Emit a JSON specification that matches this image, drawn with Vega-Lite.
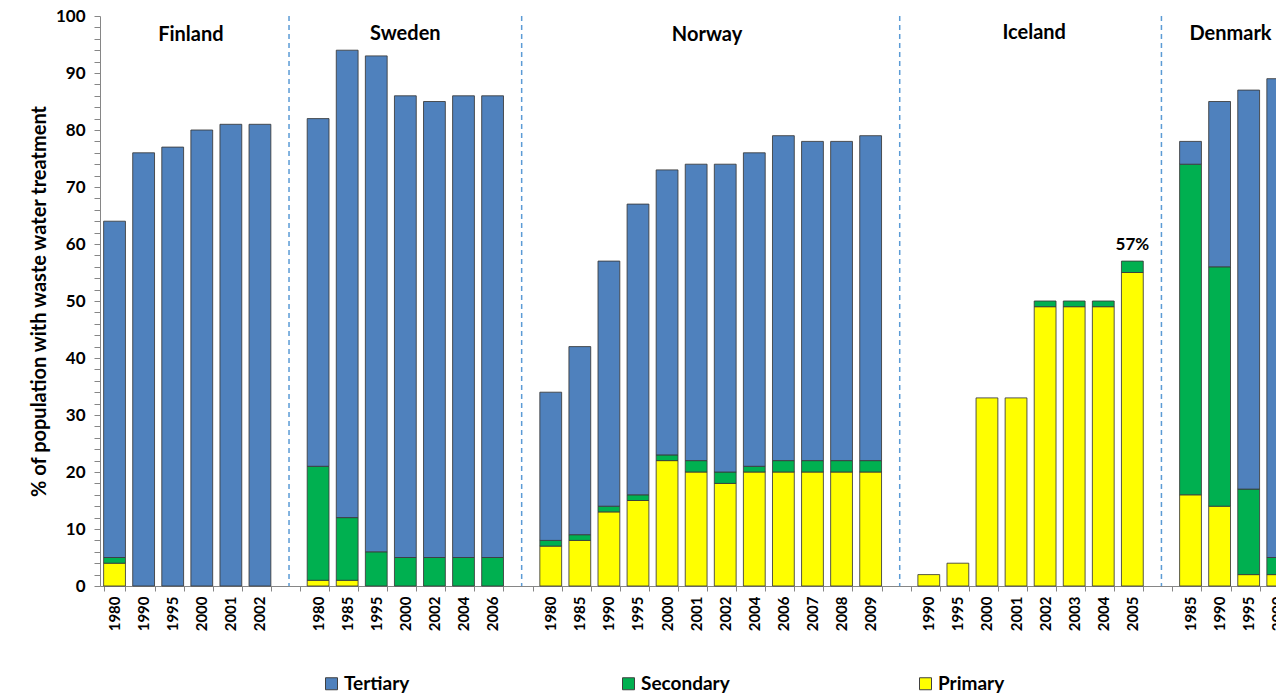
{
  "$schema": "https://vega.github.io/schema/vega-lite/v6.json",
  "autosize": {"type": "none"},
  "width": 1176,
  "height": 570,
  "padding": {"left": 100, "top": 16, "right": 0, "bottom": 112},
  "background": "white",
  "config": {
    "view": {"stroke": null},
    "font": "Lato",
    "axis": {"domainColor": "#868686", "tickColor": "#868686", "labelColor": "#000000", "titleColor": "#000000", "grid": false, "labelFontWeight": "bold", "titleFontWeight": "bold", "labelOverlap": false},
    "axisY": {"labelOverlap": false, "labelPadding": 9, "tickSize": 6, "titleFontSize": 20, "titlePadding": 6, "labelFontSize": 17},
    "legend": {"labelColor": "#000000"}
  },
  "encoding": {
    "x": {
      "field": "key", "type": "nominal", "title": null, "sort": null,
      "scale": {
        "domain": ["Finland|1980","Finland|1990","Finland|1995","Finland|2000","Finland|2001","Finland|2002","g1",
                   "Sweden|1980","Sweden|1985","Sweden|1995","Sweden|2000","Sweden|2002","Sweden|2004","Sweden|2006","g2",
                   "Norway|1980","Norway|1985","Norway|1990","Norway|1995","Norway|2000","Norway|2001","Norway|2002","Norway|2004","Norway|2006","Norway|2007","Norway|2008","Norway|2009","g3",
                   "Iceland|1990","Iceland|1995","Iceland|2000","Iceland|2001","Iceland|2002","Iceland|2003","Iceland|2004","Iceland|2005","g4",
                   "Denmark|1985","Denmark|1990","Denmark|1995","Denmark|2000"],
        "range": [0, 1192.3],
        "paddingInner": 0.25,
        "paddingOuter": 0.125
      },
      "axis": {
        "labelExpr": "indexof(datum.label, '|') >= 0 ? split(datum.label, '|')[1] : ''",
        "labelAngle": -90,
        "labelFontSize": 15,
        "labelPadding": 5,
        "tickSize": 5,
        "tickBand": "extent",
        "labelOverlap": false
      }
    }
  },
  "layer": [
    {
      "data": {"values": [
        {"key":"Finland|1980","type":"Primary","value":4},{"key":"Finland|1980","type":"Secondary","value":1},{"key":"Finland|1980","type":"Tertiary","value":59},
        {"key":"Finland|1990","type":"Tertiary","value":76},
        {"key":"Finland|1995","type":"Tertiary","value":77},
        {"key":"Finland|2000","type":"Tertiary","value":80},
        {"key":"Finland|2001","type":"Tertiary","value":81},
        {"key":"Finland|2002","type":"Tertiary","value":81},
        {"key":"Sweden|1980","type":"Primary","value":1},{"key":"Sweden|1980","type":"Secondary","value":20},{"key":"Sweden|1980","type":"Tertiary","value":61},
        {"key":"Sweden|1985","type":"Primary","value":1},{"key":"Sweden|1985","type":"Secondary","value":11},{"key":"Sweden|1985","type":"Tertiary","value":82},
        {"key":"Sweden|1995","type":"Secondary","value":6},{"key":"Sweden|1995","type":"Tertiary","value":87},
        {"key":"Sweden|2000","type":"Secondary","value":5},{"key":"Sweden|2000","type":"Tertiary","value":81},
        {"key":"Sweden|2002","type":"Secondary","value":5},{"key":"Sweden|2002","type":"Tertiary","value":80},
        {"key":"Sweden|2004","type":"Secondary","value":5},{"key":"Sweden|2004","type":"Tertiary","value":81},
        {"key":"Sweden|2006","type":"Secondary","value":5},{"key":"Sweden|2006","type":"Tertiary","value":81},
        {"key":"Norway|1980","type":"Primary","value":7},{"key":"Norway|1980","type":"Secondary","value":1},{"key":"Norway|1980","type":"Tertiary","value":26},
        {"key":"Norway|1985","type":"Primary","value":8},{"key":"Norway|1985","type":"Secondary","value":1},{"key":"Norway|1985","type":"Tertiary","value":33},
        {"key":"Norway|1990","type":"Primary","value":13},{"key":"Norway|1990","type":"Secondary","value":1},{"key":"Norway|1990","type":"Tertiary","value":43},
        {"key":"Norway|1995","type":"Primary","value":15},{"key":"Norway|1995","type":"Secondary","value":1},{"key":"Norway|1995","type":"Tertiary","value":51},
        {"key":"Norway|2000","type":"Primary","value":22},{"key":"Norway|2000","type":"Secondary","value":1},{"key":"Norway|2000","type":"Tertiary","value":50},
        {"key":"Norway|2001","type":"Primary","value":20},{"key":"Norway|2001","type":"Secondary","value":2},{"key":"Norway|2001","type":"Tertiary","value":52},
        {"key":"Norway|2002","type":"Primary","value":18},{"key":"Norway|2002","type":"Secondary","value":2},{"key":"Norway|2002","type":"Tertiary","value":54},
        {"key":"Norway|2004","type":"Primary","value":20},{"key":"Norway|2004","type":"Secondary","value":1},{"key":"Norway|2004","type":"Tertiary","value":55},
        {"key":"Norway|2006","type":"Primary","value":20},{"key":"Norway|2006","type":"Secondary","value":2},{"key":"Norway|2006","type":"Tertiary","value":57},
        {"key":"Norway|2007","type":"Primary","value":20},{"key":"Norway|2007","type":"Secondary","value":2},{"key":"Norway|2007","type":"Tertiary","value":56},
        {"key":"Norway|2008","type":"Primary","value":20},{"key":"Norway|2008","type":"Secondary","value":2},{"key":"Norway|2008","type":"Tertiary","value":56},
        {"key":"Norway|2009","type":"Primary","value":20},{"key":"Norway|2009","type":"Secondary","value":2},{"key":"Norway|2009","type":"Tertiary","value":57},
        {"key":"Iceland|1990","type":"Primary","value":2},
        {"key":"Iceland|1995","type":"Primary","value":4},
        {"key":"Iceland|2000","type":"Primary","value":33},
        {"key":"Iceland|2001","type":"Primary","value":33},
        {"key":"Iceland|2002","type":"Primary","value":49},{"key":"Iceland|2002","type":"Secondary","value":1},
        {"key":"Iceland|2003","type":"Primary","value":49},{"key":"Iceland|2003","type":"Secondary","value":1},
        {"key":"Iceland|2004","type":"Primary","value":49},{"key":"Iceland|2004","type":"Secondary","value":1},
        {"key":"Iceland|2005","type":"Primary","value":55},{"key":"Iceland|2005","type":"Secondary","value":2},
        {"key":"Denmark|1985","type":"Primary","value":16},{"key":"Denmark|1985","type":"Secondary","value":58},{"key":"Denmark|1985","type":"Tertiary","value":4},
        {"key":"Denmark|1990","type":"Primary","value":14},{"key":"Denmark|1990","type":"Secondary","value":42},{"key":"Denmark|1990","type":"Tertiary","value":29},
        {"key":"Denmark|1995","type":"Primary","value":2},{"key":"Denmark|1995","type":"Secondary","value":15},{"key":"Denmark|1995","type":"Tertiary","value":70},
        {"key":"Denmark|2000","type":"Primary","value":2},{"key":"Denmark|2000","type":"Secondary","value":3},{"key":"Denmark|2000","type":"Tertiary","value":84}
      ]},
      "mark": {"type": "bar", "stroke": "#3a3a3a", "strokeWidth": 1, "strokeOpacity": 0.85},
      "encoding": {
        "y": {
          "field": "value", "type": "quantitative", "stack": "zero",
          "scale": {"domain": [0, 100], "nice": false},
          "axis": {
            "title": "% of population with waste water treatment",
            "values": [0,2,4,6,8,10,12,14,16,18,20,22,24,26,28,30,32,34,36,38,40,42,44,46,48,50,52,54,56,58,60,62,64,66,68,70,72,74,76,78,80,82,84,86,88,90,92,94,96,98,100],
            "tickCount": 200,
            "format": "d",
            "labelExpr": "datum.value % 10 == 0 ? datum.label : ''",
            "labelOverlap": false
          }
        },
        "color": {
          "field": "type", "type": "nominal",
          "scale": {"domain": ["Tertiary", "Secondary", "Primary"], "range": ["#4f81bd", "#00b050", "#ffff00"]},
          "legend": {
            "title": null,
            "orient": "none",
            "legendX": 222,
            "legendY": 658,
            "direction": "horizontal",
            "symbolType": "square",
            "symbolSize": 144,
            "symbolStrokeColor": "#404040",
            "symbolStrokeWidth": 1,
            "labelFontSize": 19,
            "labelFontWeight": "bold",
            "labelOffset": 3,
            "columnPadding": 186,
            "gridAlign": "all",
            "padding": 0
          }
        },
        "order": {"field": "type", "sort": "ascending"}
      }
    },
    {
      "data": {"values": [{"key": "g1"}, {"key": "g2"}, {"key": "g3"}, {"key": "g4"}]},
      "mark": {"type": "rule", "color": "#5b9bd5", "strokeDash": [5, 4], "strokeWidth": 1.5},
      "encoding": {}
    },
    {
      "data": {"values": [{"key": "Finland|2000", "country": "Finland"}]},
      "mark": {"type": "text", "fontSize": 20, "fontWeight": "bold", "baseline": "middle", "align": "center"},
      "encoding": {
        "x": {"field": "key", "type": "nominal", "title": null, "sort": null, "bandPosition": 0},
        "y": {"datum": 96.6, "type": "quantitative"},
        "text": {"field": "country"}
      }
    },
    {
      "data": {"values": [{"key": "Iceland|2002", "country": "Iceland"}]},
      "mark": {"type": "text", "fontSize": 20, "fontWeight": "bold", "baseline": "middle", "align": "center"},
      "encoding": {
        "x": {"field": "key", "type": "nominal", "title": null, "sort": null, "bandPosition": 0},
        "y": {"datum": 97.1, "type": "quantitative"},
        "text": {"field": "country"}
      }
    },
    {
      "data": {"values": [{"key": "Sweden|2000", "country": "Sweden"}]},
      "mark": {"type": "text", "fontSize": 20, "fontWeight": "bold", "baseline": "middle", "align": "center"},
      "encoding": {
        "x": {"field": "key", "type": "nominal", "title": null, "sort": null, "bandPosition": 0.5},
        "y": {"datum": 96.9, "type": "quantitative"},
        "text": {"field": "country"}
      }
    },
    {
      "data": {"values": [{"key": "Norway|2001", "country": "Norway"}]},
      "mark": {"type": "text", "fontSize": 20, "fontWeight": "bold", "baseline": "middle", "align": "center"},
      "encoding": {
        "x": {"field": "key", "type": "nominal", "title": null, "sort": null, "bandPosition": 1},
        "y": {"datum": 96.6, "type": "quantitative"},
        "text": {"field": "country"}
      }
    },
    {
      "data": {"values": [{"key": "Denmark|1990", "country": "Denmark"}]},
      "mark": {"type": "text", "fontSize": 20, "fontWeight": "bold", "baseline": "middle", "align": "center"},
      "encoding": {
        "x": {"field": "key", "type": "nominal", "title": null, "sort": null, "bandPosition": 1},
        "y": {"datum": 96.9, "type": "quantitative"},
        "text": {"field": "country"}
      }
    },
    {
      "data": {"values": [{"key": "Iceland|2005", "label": "57%", "value": 57}]},
      "mark": {"type": "text", "fontSize": 17, "fontWeight": "bold", "baseline": "bottom", "align": "center", "dy": -7},
      "encoding": {
        "y": {"field": "value", "type": "quantitative"},
        "text": {"field": "label"}
      }
    }
  ]
}
